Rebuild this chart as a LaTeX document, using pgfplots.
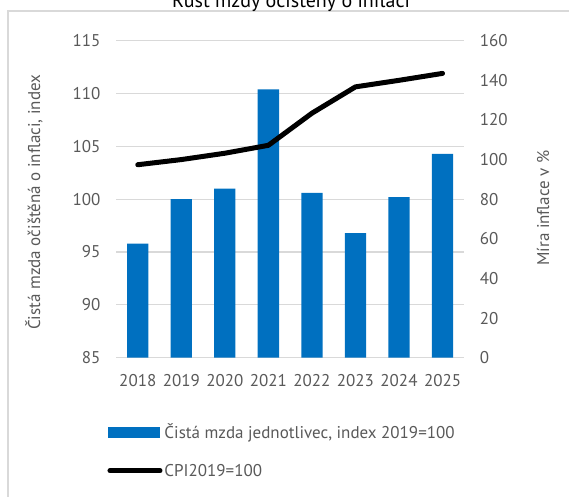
\documentclass[border=0pt]{standalone}
\usepackage{fontspec}
\setmainfont{PT Sans}
\usepackage{pgfplots}
\pgfplotsset{compat=1.18}
\definecolor{barblue}{HTML}{0070C0}
\definecolor{txt}{HTML}{595959}
\definecolor{gridc}{HTML}{D9D9D9}
\begin{document}
\begin{tikzpicture}[x=1pt,y=1pt]
\draw[gridc, line width=1.2pt] (8,-20) -- (8,485) -- (600,485);
\node[anchor=base, font=\fontsize{20}{24}\selectfont, text=black] at (291,488) {Růst mzdy očištěný o inflaci};
\pgfplotsset{
  common/.style={
    at={(116pt,138.3pt)}, anchor=south west,
    width=348.3pt, height=317pt, scale only axis,
    xmin=-0.5, xmax=7.5,
    axis line style={draw=none},
    major tick length=0pt,
    tick label style={text=txt, font=\fontsize{17}{20}\selectfont},
    label style={text=txt, font=\fontsize{17}{20}\selectfont},
    /pgf/number format/assume math mode=true,
  }
}
\begin{axis}[common,
  ymin=85, ymax=115, ytick={85,90,...,115},
  xtick={0,...,7}, xticklabels={2018,2019,2020,2021,2022,2023,2024,2025},
  ymajorgrids, grid style={gridc, line width=1.2pt},
  yticklabel style={xshift=-12pt},
  xticklabel style={yshift=-13pt},
  ylabel={Čistá mzda očištěná o inflaci, index},
  ylabel style={at={(axis description cs:-0.2355,0.49)}, anchor=center, rotate=0},
]
\addplot[ybar, bar width=21.3pt, fill=barblue, draw=none] coordinates {
(0,95.8) (1,100.0) (2,101.0) (3,110.4) (4,100.6) (5,96.8) (6,100.2) (7,104.3)};
\end{axis}
\begin{axis}[common,
  ymin=0, ymax=160, ytick={0,20,...,160},
  axis y line*=right, axis x line=none,
  yticklabel style={xshift=12pt},
  ylabel={Míra inflace v \%},
  ylabel style={at={(axis description cs:1.226,0.472)}, anchor=center, rotate=0},
  legend style={at={(axis description cs:-0.025,-0.201)}, anchor=north west,
    draw=none, fill=none, text=txt, font=\fontsize{17}{20}\selectfont,
    row sep=20pt, inner sep=0pt, nodes={inner sep=2pt}},
  legend cell align=left,
]
\addlegendimage{legend image code/.code={\fill[barblue] (1pt,-5pt) rectangle (52pt,5pt);}}
\addlegendentry{Čistá mzda jednotlivec, index 2019=100}
\addplot[black, line width=5pt, line cap=round, line join=round,
  legend image code/.code={\draw[black, line width=5pt, line cap=round] (2.5pt,0pt) -- (52.5pt,0pt);}]
  coordinates {(0,97.4) (1,100.0) (2,103.2) (3,107.2) (4,123.4) (5,136.7) (6,140.0) (7,143.5)};
\addlegendentry{CPI2019=100}
\end{axis}
\pgfresetboundingbox
\path (0,0) rectangle (569,496);
\end{tikzpicture}
\end{document}
